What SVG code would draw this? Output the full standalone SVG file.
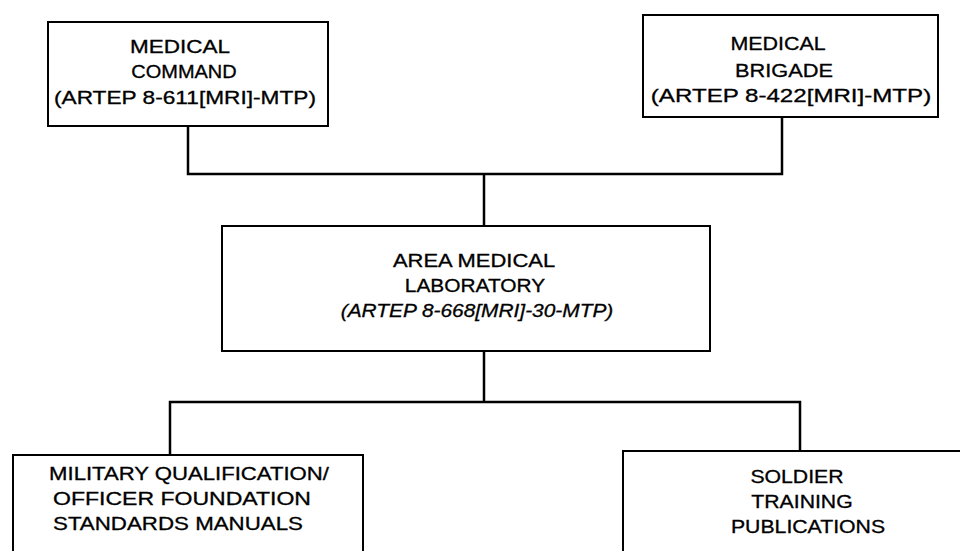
<svg xmlns="http://www.w3.org/2000/svg" width="960" height="551" viewBox="0 0 960 551">
<style>
.box{fill:#fff;stroke:#000;stroke-width:2}
.c{fill:none;stroke:#000;stroke-width:2.5}
.t{font-family:"Liberation Sans",Arial,sans-serif;font-size:18px;text-anchor:middle;fill:#000;stroke:#000;stroke-width:0.3}
.i{font-style:italic}
</style>
<rect width="960" height="551" fill="#fff"/>
<g id="connectors">
<polyline class="c" points="188,126 188,174 782,174 782,116"/>
<line class="c" x1="484" y1="174" x2="484" y2="226"/>
<line class="c" x1="484" y1="351" x2="484" y2="402"/>
<polyline class="c" points="170,455 170,402 800,402 800,451"/>
</g>
<g id="medical-command">
<rect class="box" x="48" y="22" width="280" height="104"/>
<text class="t" transform="matrix(1.25 0 0 1 180 0)" y="53">MEDICAL</text>
<text class="t" transform="matrix(1.11 0 0 1 184 0)" y="78">COMMAND</text>
<text class="t" transform="matrix(1.26 0 0 1 185 0)" y="104">(ARTEP 8-611[MRI]-MTP)</text>
</g>
<g id="medical-brigade">
<rect class="box" x="643" y="15" width="295" height="102"/>
<text class="t" transform="matrix(1.19 0 0 1 778 0)" y="50">MEDICAL</text>
<text class="t" transform="matrix(1.21 0 0 1 784 0)" y="77">BRIGADE</text>
<text class="t" transform="matrix(1.34 0 0 1 791 0)" y="102">(ARTEP 8-422[MRI]-MTP)</text>
</g>
<g id="area-medical-laboratory">
<rect class="box" x="222" y="226" width="488" height="125"/>
<text class="t" transform="matrix(1.22 0 0 1 474 0)" y="267">AREA MEDICAL</text>
<text class="t" transform="matrix(1.16 0 0 1 475 0)" y="292">LABORATORY</text>
<text class="t i" transform="matrix(1.16 0 0 1 477 0)" y="317">(ARTEP 8-668[MRI]-30-MTP)</text>
</g>
<g id="mqs-manuals">
<rect class="box" x="13" y="455" width="350" height="110"/>
<text class="t" transform="matrix(1.23 0 0 1 189 0)" y="480">MILITARY QUALIFICATION/</text>
<text class="t" transform="matrix(1.28 0 0 1 182 0)" y="505">OFFICER FOUNDATION</text>
<text class="t" transform="matrix(1.24 0 0 1 178 0)" y="530">STANDARDS MANUALS</text>
</g>
<g id="soldier-training-publications">
<rect class="box" x="623" y="451" width="350" height="110"/>
<text class="t" transform="matrix(1.18 0 0 1 797 0)" y="483">SOLDIER</text>
<text class="t" transform="matrix(1.18 0 0 1 802 0)" y="508">TRAINING</text>
<text class="t" transform="matrix(1.18 0 0 1 808 0)" y="533">PUBLICATIONS</text>
</g>
</svg>
